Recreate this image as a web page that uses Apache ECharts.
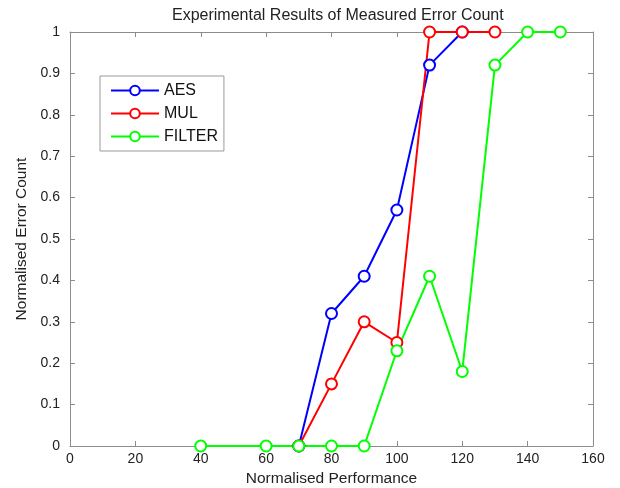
<!DOCTYPE html>
<html>
<head>
<meta charset="utf-8">
<script src="https://cdn.jsdelivr.net/npm/echarts@6/dist/echarts.min.js"></script>
<style>
  html, body { margin: 0; padding: 0; background: #fff; }
  #chart { width: 620px; height: 488px; }
</style>
</head>
<body>
<div id="chart"></div>
<script>
// values
const aesX = [70, 80, 90, 100, 110, 120];
const aesY = [0, 0.32, 0.41, 0.57, 0.92, 1];
const mulX = [70, 80, 90, 100, 110, 120, 130];
const mulY = [0, 0.15, 0.30, 0.25, 1, 1, 1];
const filterX = [40, 60, 70, 80, 90, 100, 110, 120, 130, 140, 150];
const filterY = [0, 0, 0, 0, 0, 0.23, 0.41, 0.18, 0.92, 1, 1];

function pairs(xs, ys) {
  return xs.map((x, i) => [x, ys[i]]);
}

const chart = echarts.init(document.getElementById('chart'));
const font = 'Liberation Sans, Arial, sans-serif';
const axisGrey = '#8c8c8c';

function lineSeries(name, color, xs, ys) {
  return {
    name: name,
    type: 'line',
    data: pairs(xs, ys),
    symbol: 'emptyCircle',
    symbolSize: 11,
    showAllSymbol: true,
    lineStyle: { color: color, width: 2 },
    itemStyle: { color: color, borderColor: color, borderWidth: 2 },
    animation: false
  };
}

function boxAxis(extra) {
  return Object.assign({
    type: 'value',
    axisLine: { show: true, onZero: false, lineStyle: { color: axisGrey } },
    axisTick: { show: true, inside: true, length: 5, lineStyle: { color: axisGrey } },
    axisLabel: { show: false },
    splitLine: { show: false }
  }, extra);
}

const option = {
  backgroundColor: '#fff',
  title: {
    text: 'Experimental Results of Measured Error Count',
    left: 167,
    top: 3,
    textStyle: { fontFamily: font, fontSize: 16, fontWeight: 'normal', color: '#222' }
  },
  legend: {
    orient: 'vertical',
    left: 100,
    top: 76,
    padding: [6, 6, 6, 10],
    itemGap: 6,
    itemWidth: 48,
    itemHeight: 12,
    borderColor: '#999',
    borderWidth: 1,
    backgroundColor: '#fff',
    textStyle: { fontFamily: font, fontSize: 16, color: '#111', lineHeight: 17 },
    data: ['AES', 'MUL', 'FILTER']
  },
  grid: { left: 70, right: 27, top: 32, bottom: 42, outerBoundsMode: 'none' },
  xAxis: [
    boxAxis({
      min: 0, max: 160, interval: 20, position: 'bottom',
      name: 'Normalised Performance', nameLocation: 'middle', nameGap: 25,
      nameTextStyle: { fontFamily: font, fontSize: 15.5, color: '#222' },
      axisLabel: { show: true, fontFamily: font, fontSize: 14, color: '#222', margin: 6 }
    }),
    boxAxis({ min: 0, max: 160, interval: 20, position: 'top' })
  ],
  yAxis: [
    boxAxis({
      min: 0, max: 1, interval: 0.1, position: 'left',
      name: 'Normalised Error Count', nameLocation: 'middle', nameGap: 39,
      nameTextStyle: { fontFamily: font, fontSize: 15.5, color: '#222' },
      axisLabel: { show: true, fontFamily: font, fontSize: 14, color: '#222', margin: 10 }
    }),
    boxAxis({ min: 0, max: 1, interval: 0.1, position: 'right' })
  ],
  series: [
    lineSeries('AES', '#0000ff', aesX, aesY),
    lineSeries('MUL', '#ff0000', mulX, mulY),
    lineSeries('FILTER', '#00ff00', filterX, filterY)
  ]
};

chart.setOption(option);
</script>
</body>
</html>
